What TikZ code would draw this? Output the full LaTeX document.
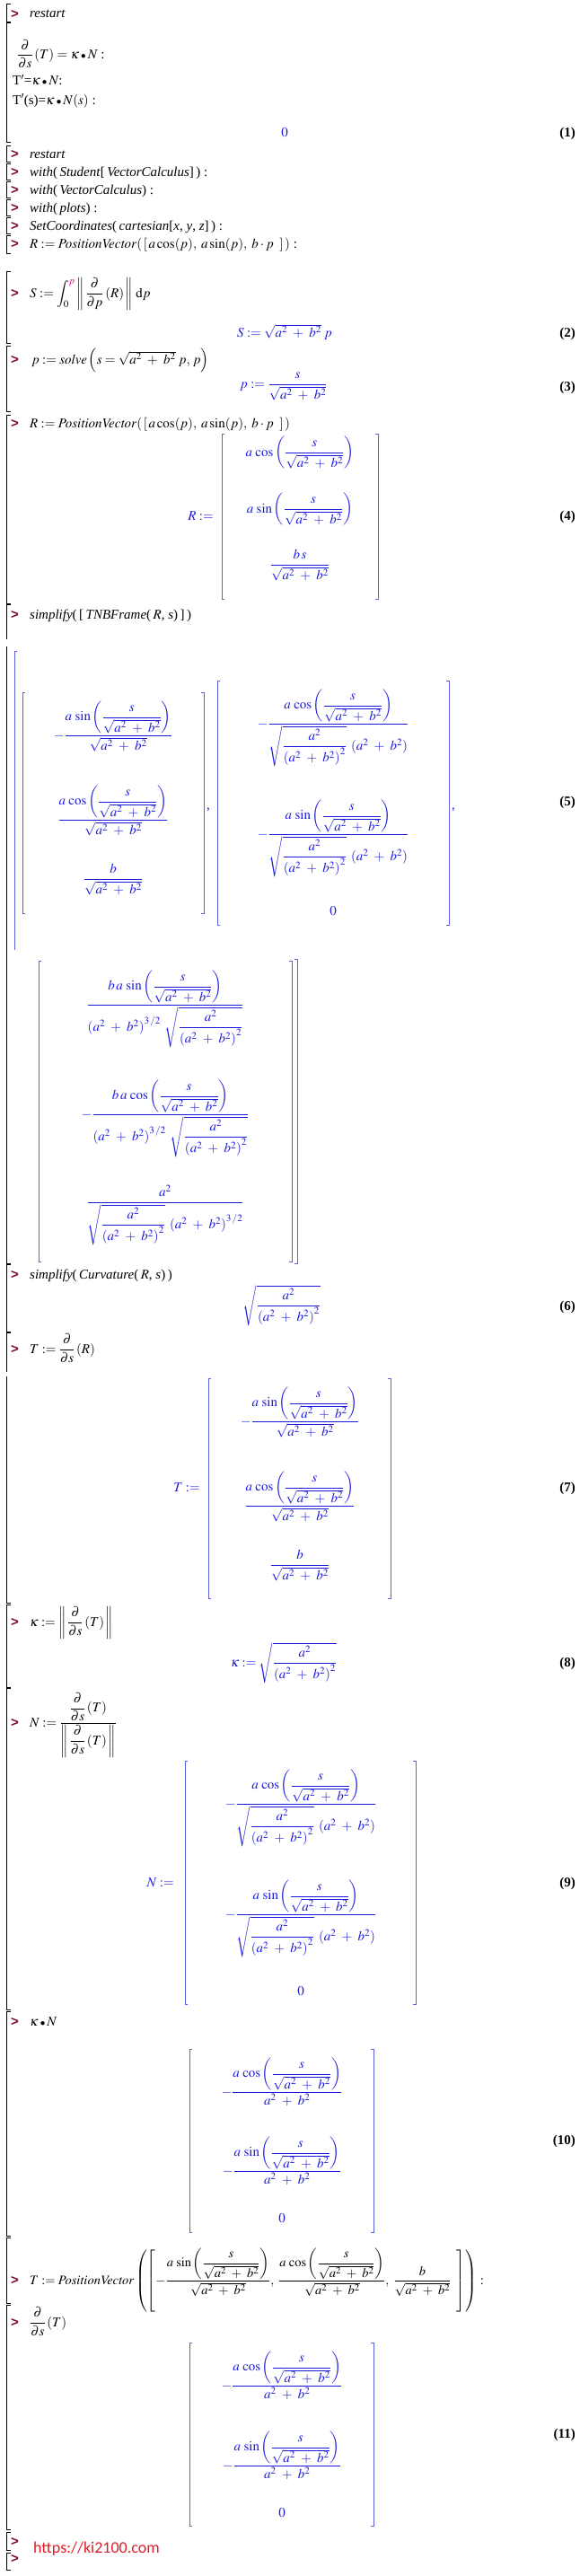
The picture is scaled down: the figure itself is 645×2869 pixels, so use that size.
\documentclass[tikz,border=0pt]{standalone}
\usepackage{amsmath}
\usepackage{mathptmx}
\usepackage{fontspec}
\setmainfont{Liberation Serif}
\newfontfamily\urlfont{Carlito}
\newfontfamily\promptfont{Liberation Sans}
\definecolor{outblue}{RGB}{25,25,220}
\definecolor{brblue}{RGB}{95,95,225}
\definecolor{promptred}{RGB}{130,10,40}
\definecolor{urlred}{RGB}{220,30,40}
\newcommand{\Pl}{\mskip5mu+\mskip5mu}
\newcommand{\Sab}{\sqrt{a^{2}\Pl b^{2}}}
\newcommand{\Fs}{\dfrac{s}{\Sab}}
\newcommand{\MSin}{a\,\sin\left(\Fs\right)}
\newcommand{\MCos}{a\,\cos\left(\Fs\right)}
\newcommand{\Ssq}{\sqrt{\dfrac{a^{2}}{\left(a^{2}\Pl b^{2}\right)^{2}}}}
\newcommand{\Pab}{\left(a^{2}\Pl b^{2}\right)}
\newcommand{\Dds}{\dfrac{\partial}{\partial s}}
\newcommand{\Bul}{\mathbin{{\scriptstyle\bullet}}}
\newcommand{\MBr}[4]{%
  \draw[brk] ({#1+3},#3) -- (#1,#3) -- (#1,#4) -- ({#1+3},#4);
  \draw[brk] ({#2-3},#3) -- (#2,#3) -- (#2,#4) -- ({#2-3},#4);}
\begin{document}
\begin{tikzpicture}[x=1pt,y=-1pt,
  grp/.style={draw=black,line width=0.8pt},
  brk/.style={draw=brblue,line width=1pt},
  inp/.style={anchor=base west,inner sep=0pt,font=\fontsize{15}{18}\selectfont},
  outp/.style={anchor=base,inner sep=0pt,text=outblue,font=\fontsize{15}{18}\selectfont},
  lbl/.style={anchor=base east,inner sep=0pt,font=\fontsize{15}{18}\selectfont\bfseries},
  prm/.style={anchor=base west,inner sep=0pt,text=promptred,font=\fontsize{15}{18}\promptfont\bfseries}]
\fill[white] (0,0) rectangle (645,2869);
\useasboundingbox (0,0) rectangle (645,2869);
% execution group brackets
\foreach \t/\b in {4/24,25/158,162/180,182/200,202/220,222/240,242/260,262/282,302/382,385/458,462/672,1408/1483,1787/1879,1880/2238,2240/2490,2492/2565,2567/2817,2820/2840,2843/2862}
  \draw[grp] (12,\t) -- (7,\t) -- (7,\b) -- (12,\b);
\draw[grp] (12,673) -- (7,673) -- (7,712);
\draw[grp] (7,720) -- (7,1407) -- (12,1407);
\draw[grp] (12,1484) -- (7,1484) -- (7,1528);
\draw[grp] (7,1533) -- (7,1785) -- (12,1785);
% prompts
\foreach \y [count=\i] in {16,172,192,212,232,252,272,327,401,472,685,1420,1503,1807,1919,2252,2540,2587,2831,2850}
  \node[prm] (p\i) at (12,\y+4.5) {>};
% group A
\node[inp] (iA) at (33,20) {\textit{restart}};
% group B
\node[inp] (b1) at (19,65.5) {$\Dds\,(T) = \kappa\Bul N$ :};
\node[inp] (b2) at (14,95) {T$'$=$\kappa\Bul N$:};
\node[inp] (b3) at (14,116) {T$'$(s)=$\kappa\Bul N(s)$ :};
\node[outp] (o1) at (317,152) {$0$};
\node[lbl] (l1) at (641,152) {(1)};
% groups C-H
\node[inp] (iC) at (33,176) {\textit{restart}};
\node[inp] (iD) at (33,196) {\textit{with}(\,\textit{Student}[\,\textit{VectorCalculus}]\,) :};
\node[inp] (iE) at (33,216) {\textit{with}(\,\textit{VectorCalculus}) :};
\node[inp] (iF) at (33,236) {\textit{with}(\,\textit{plots}) :};
\node[inp] (iG) at (33,256) {\textit{SetCoordinates}(\,\textit{cartesian}[\textit{x}, \textit{y}, \textit{z}]\,) :};
\node[inp] (iH) at (33,276) {$R := \mathit{PositionVector}(\,[\,a\cos(p),\; a\sin(p),\; b\cdot p\;\;]\,)$ :};
% group I
\node[inp] (iI) at (33,331) {$S := \displaystyle\int_{0}^{\textcolor{magenta}{p}} \left\|\,\dfrac{\partial}{\partial p}\,(R)\,\right\|\,\mathrm{d}p$};
\node[outp] (o2) at (317,375) {$S := \Sab\;p$};
\node[lbl] (l2) at (641,375) {(2)};
% group J
\node[inp] (iJ) at (35,405) {$p := \mathit{solve}\left(s = \Sab\;p,\, p\right)$};
\node[outp] (o3) at (316,432) {$p := \dfrac{s}{\Sab}$};
\node[lbl] (l3) at (641,435) {(3)};
% group K
\node[inp] (iK) at (33,476) {$R := \mathit{PositionVector}(\,[\,a\cos(p),\; a\sin(p),\; b\cdot p\;\;]\,)$};
\node[outp,anchor=base east] (o4n) at (238,579) {$R :=$};
\MBr{247}{421}{483}{667}
\node[outp] (o4a) at (334,508) {$\MCos$};
\node[outp] (o4b) at (334,571) {$\MSin$};
\node[outp] (o4c) at (334,633) {$\dfrac{b\,s}{\Sab}$};
\node[lbl] (l4) at (641,579) {(4)};
% group L
\node[inp] (iL) at (33,689) {\textit{simplify}(\,[\,\textit{TNBFrame}(\,$R$, \textit{s})\,]\,)};
\draw[brk] (19,725) -- (16,725) -- (16,1058);
\MBr{25}{227}{771}{1017}
\node[outp] (t1) at (126,823) {$-\dfrac{\MSin}{\Sab}$};
\node[outp] (t2) at (126,917) {$\dfrac{\MCos}{\Sab}$};
\node[outp] (t3) at (126,983) {$\dfrac{b}{\Sab}$};
\node[outp] (c1) at (232,901) {,};
\MBr{242}{500}{758}{1030}
\node[outp] (n1) at (371,810) {$-\dfrac{\MCos}{\Ssq\;\Pab}$};
\node[outp] (n2) at (371,933) {$-\dfrac{\MSin}{\Ssq\;\Pab}$};
\node[outp] (n3) at (371,1019) {$0$};
\node[outp] (c2) at (505,901) {,};
\node[lbl] (l5) at (641,897) {(5)};
\MBr{43}{325}{1070}{1405}
\draw[brk] (328,1068) -- (331,1068) -- (331,1407) -- (328,1407);
\node[outp] (bb1) at (184,1123) {$\dfrac{b\,a\,\sin\left(\Fs\right)}{\Pab^{3\,/2}\;\Ssq}$};
\node[outp] (bb2) at (184,1245) {$-\dfrac{b\,a\,\cos\left(\Fs\right)}{\Pab^{3\,/2}\;\Ssq}$};
\node[outp] (bb3) at (184,1343) {$\dfrac{a^{2}}{\Ssq\;\Pab^{3\,/2}}$};
% group M
\node[inp] (iM) at (33,1424) {\textit{simplify}(\,\textit{Curvature}(\,$R$, \textit{s})\,)};
\node[outp] (o6) at (314,1458) {$\Ssq$};
\node[lbl] (l6) at (641,1459) {(6)};
% group N
\node[inp] (iN) at (33,1507) {$T := \Dds\,(R)$};
\node[outp,anchor=base east] (o7n) at (223,1661) {$T :=$};
\MBr{232}{435}{1535}{1780}
\node[outp] (s1) at (334,1587) {$-\dfrac{\MSin}{\Sab}$};
\node[outp] (s2) at (334,1681) {$\dfrac{\MCos}{\Sab}$};
\node[outp] (s3) at (334,1747) {$\dfrac{b}{\Sab}$};
\node[lbl] (l7) at (641,1661) {(7)};
% group O
\node[inp] (iO) at (33,1811) {$\kappa := \left\|\,\Dds\,(T)\,\right\|$};
\node[outp] (o8) at (316,1856) {$\kappa := \Ssq$};
\node[lbl] (l8) at (641,1856) {(8)};
% group P
\node[inp] (iP) at (33,1923) {$N := \dfrac{\Dds\,(T)}{\left\|\,\Dds\,(T)\,\right\|}$};
\node[outp,anchor=base east] (o9n) at (194,2101) {$N :=$};
\MBr{206}{463}{1961}{2232}
\node[outp] (m1) at (335,2013) {$-\dfrac{\MCos}{\Ssq\;\Pab}$};
\node[outp] (m2) at (335,2136) {$-\dfrac{\MSin}{\Ssq\;\Pab}$};
\node[outp] (m3) at (335,2222) {$0$};
\node[lbl] (l9) at (641,2101) {(9)};
% group Q
\node[inp] (iQ) at (33,2256) {$\kappa\Bul N$};
\MBr{211}{416}{2282}{2486}
\node[outp] (k1) at (314,2334) {$-\dfrac{\MCos}{a^{2}\Pl b^{2}}$};
\node[outp] (k2) at (314,2422) {$-\dfrac{\MSin}{a^{2}\Pl b^{2}}$};
\node[outp] (k3) at (314,2475) {$0$};
\node[lbl] (l10) at (641,2388) {(10)};
% group R
\node[inp,font=\fontsize{14.5}{17}\selectfont] (iR) at (33,2544) {$T := \mathit{PositionVector}\left(\left[-\dfrac{\MSin}{\Sab},\; \dfrac{\MCos}{\Sab},\; \dfrac{b}{\Sab}\;\;\right]\right)$ :};
% group S
\node[inp] (iS) at (33,2591) {$\Dds\,(T)$};
\MBr{211}{416}{2609}{2813}
\node[outp] (d1) at (314,2661) {$-\dfrac{\MCos}{a^{2}\Pl b^{2}}$};
\node[outp] (d2) at (314,2750) {$-\dfrac{\MSin}{a^{2}\Pl b^{2}}$};
\node[outp] (d3) at (314,2803) {$0$};
\node[lbl] (l11) at (641,2715) {(11)};
% url
\node[anchor=base west,inner sep=0pt,text=urlred,font=\fontsize{18}{21}\urlfont] (url) at (37,2843) {https://ki2100.com};
\end{tikzpicture}
\end{document}
